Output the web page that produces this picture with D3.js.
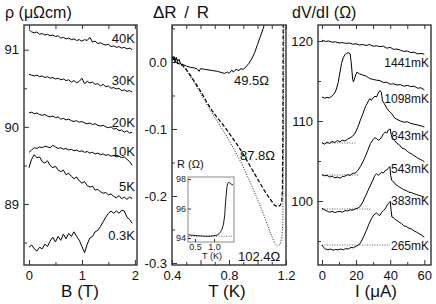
<!DOCTYPE html>
<html>
<head>
<meta charset="utf-8">
<script src="https://cdn.jsdelivr.net/npm/d3@7"></script>
<style>
  body { margin: 0; background: #fff; }
  text { font-family: "Liberation Sans", Arial, Helvetica, sans-serif; }
</style>
</head>
<body>
<div id="chart"></div>
<script>
// ---- left panel: rho vs B at several temperatures
var fieldB = [0,0.05,0.1,0.15,0.2,0.25,0.3,0.35,0.4,0.45,0.5,0.55,0.6,0.65,0.7,0.75,0.8,0.85,0.9,0.95,
              1.0,1.05,1.1,1.15,1.2,1.25,1.3,1.35,1.4,1.45,1.5,1.55,1.6,1.65,1.7,1.75,1.8,1.85,1.9,1.95];
var rho40 = [91.26,91.23,91.22,91.23,91.20,91.21,91.19,91.20,91.18,91.19,91.17,91.18,91.15,91.16,91.14,91.15,91.13,91.14,91.12,91.13,
             91.11,91.13,91.12,91.16,91.10,91.11,91.08,91.09,91.07,91.06,91.07,91.04,91.05,91.03,91.04,91.02,91.03,91.01,91.02,91.00];
var rho30 = [90.68,90.67,90.66,90.67,90.65,90.66,90.64,90.65,90.63,90.64,90.62,90.63,90.61,90.62,90.60,90.61,90.58,90.60,90.57,90.59,
             90.63,90.56,90.59,90.57,90.58,90.55,90.56,90.53,90.55,90.52,90.53,90.50,90.51,90.49,90.50,90.47,90.48,90.46,90.47,90.45];
var rho20 = [90.18,90.19,90.17,90.18,90.16,90.15,90.16,90.14,90.13,90.14,90.12,90.13,90.10,90.11,90.09,90.10,90.08,90.07,90.08,90.06,
             90.07,90.05,90.04,90.05,90.03,90.04,90.02,90.01,90.02,90.00,89.99,90.00,89.97,89.98,89.95,89.96,89.93,89.95,89.92,89.93];
var rho10 = [89.67,89.70,89.73,89.72,89.74,89.73,89.75,89.74,89.73,89.76,89.74,89.72,89.73,89.71,89.72,89.70,89.71,89.69,89.70,89.68,
             89.69,89.67,89.68,89.66,89.67,89.65,89.66,89.64,89.65,89.63,89.64,89.62,89.63,89.61,89.62,89.60,89.61,89.58,89.55,89.50];
var rho5  = [89.47,89.58,89.64,89.60,89.61,89.55,89.53,89.56,89.50,89.47,89.49,89.44,89.42,89.44,89.38,89.40,89.36,89.33,89.35,89.30,
             89.27,89.29,89.24,89.22,89.23,89.18,89.19,89.16,89.14,89.15,89.12,89.13,89.10,89.08,89.11,89.07,89.09,89.06,89.09,89.07];
var rho03 = [88.44,88.47,88.42,88.39,88.44,88.42,88.48,88.45,88.52,88.57,88.51,88.58,88.53,88.61,88.55,88.62,88.58,88.64,88.58,88.53,
             88.45,88.37,88.48,88.56,88.58,88.64,88.66,88.71,88.77,88.83,88.88,88.91,88.88,88.91,88.88,88.92,88.91,88.83,88.80,88.75];
var tempLabels = ["40K", "30K", "20K", "10K", "5K", "0.3K"];

// ---- middle panel: dR/R vs T for three samples
var dr495 = [[0.400,0.004],[0.405,0.009],[0.41,0.003],[0.415,0.008],[0.42,0.002],[0.43,0.007],[0.44,0.001],[0.45,0.004],
             [0.46,-0.003],[0.48,-0.004],[0.50,-0.006],[0.53,-0.008],[0.56,-0.009],[0.58,-0.011],[0.59,-0.014],[0.60,-0.010],
             [0.63,-0.011],[0.66,-0.012],[0.69,-0.013],[0.72,-0.014],[0.75,-0.016],[0.77,-0.017],[0.79,-0.015],[0.80,-0.017],
             [0.82,-0.012],[0.83,-0.015],[0.85,-0.011],[0.87,-0.013],[0.88,-0.010],[0.90,-0.011],[0.92,-0.007],[0.94,-0.002],
             [0.96,0.005],[0.98,0.014],[1.00,0.026],[1.02,0.038],[1.04,0.050],[1.05,0.057]];
var dr878 = [[0.40,0.003],[0.41,0.006],[0.42,0.0],[0.43,0.004],[0.44,-0.002],[0.46,-0.002],[0.48,-0.006],[0.50,-0.011],
             [0.53,-0.020],[0.56,-0.030],[0.59,-0.040],[0.62,-0.051],[0.65,-0.062],[0.68,-0.072],[0.71,-0.081],[0.74,-0.089],
             [0.77,-0.097],[0.80,-0.106],[0.83,-0.115],[0.86,-0.124],[0.89,-0.134],[0.92,-0.145],[0.95,-0.156],[0.98,-0.167],
             [1.01,-0.178],[1.04,-0.189],[1.07,-0.199],[1.10,-0.208],[1.12,-0.214],[1.14,-0.216],[1.16,-0.214],[1.17,-0.208],
             [1.175,-0.19],[1.178,-0.1],[1.18,0.057]];
var dr1024 = [[0.40,0.002],[0.42,0.001],[0.44,-0.003],[0.46,-0.004],[0.48,-0.008],[0.50,-0.013],[0.53,-0.022],[0.56,-0.032],
              [0.59,-0.043],[0.62,-0.054],[0.65,-0.065],[0.68,-0.076],[0.71,-0.086],[0.74,-0.096],[0.77,-0.106],[0.80,-0.117],
              [0.83,-0.128],[0.86,-0.140],[0.89,-0.152],[0.92,-0.166],[0.95,-0.180],[0.98,-0.195],[1.01,-0.210],[1.04,-0.226],
              [1.07,-0.243],[1.10,-0.260],[1.12,-0.270],[1.14,-0.275],[1.16,-0.272],[1.17,-0.263],[1.178,-0.24],[1.182,-0.1],[1.185,0.057]];
var resLabels = ["49.5\u03A9", "87.8\u03A9", "102.4\u03A9"];

// inset: R vs T
var insetR = [[0.33,94.22],[0.4,94.2],[0.5,94.17],[0.6,94.15],[0.7,94.13],[0.8,94.12],[0.9,94.13],[1.0,94.15],[1.08,94.2],
              [1.14,94.3],[1.18,94.45],[1.21,94.6],[1.25,94.95],[1.28,95.5],[1.30,96.3],[1.32,96.9],[1.34,97.45],[1.36,97.7],
              [1.39,97.8],[1.42,97.7],[1.46,97.65],[1.5,97.6]];
var insetBase = [[0.33,94.12],[1.52,94.12]];

// ---- right panel: dV/dI vs I
var dv1441 = [[0,120.1],[2,119.95],[4,120.0],[6,119.85],[8,119.9],[10,119.75],[12,119.8],[14,119.7],[16,119.75],[18,119.6],
              [20,119.65],[22,119.5],[24,119.55],[26,119.45],[28,119.55],[30,119.35],[32,119.4],[34,119.3],[36,119.35],[38,119.1],
              [40,119.2],[42,118.95],[44,119.0],[46,118.85],[48,118.7],[50,118.75],[52,118.55],[54,118.6],[56,118.4],[58,118.45],[60,118.35]];
var dv1098 = [[0,113.0],[1.5,112.85],[3,112.95],[4.5,112.9],[6,113.15],[7.5,113.5],[8.5,114.0],[9.5,114.8],[10.5,116.0],
              [11.5,117.2],[12.5,117.9],[13.5,118.3],[14.5,118.45],[15.5,118.55],[16.5,118.4],[17,117.6],[17.5,116.5],[18,115.2],
              [18.5,114.9],[19.5,115.6],[20.5,116.1],[22,115.9],[24,115.75],[26,115.6],[28,115.3],[30,115.2],[32,115.1],[34,115.05],
              [36,114.8],[38,114.85],[40,114.6],[42,114.65],[44,114.5],[46,114.55],[48,114.35],[50,114.45],[52,114.3],[54,114.35],
              [56,114.1],[58,114.15],[60,113.9]];
var dv843 = [[0,107.3],[1.5,107.1],[3,107.35],[4.5,107.2],[6,107.45],[7.5,107.3],[9,107.55],[10.5,107.4],[12,107.6],[13.5,107.5],
             [15,107.75],[16.5,107.9],[18,108.1],[19.5,108.5],[21,109.2],[22.5,110.1],[24,110.9],[25.5,111.8],[27,112.4],[28,112.8],
             [29,112.6],[30,112.9],[31,113.1],[32,113.0],[33,113.5],[34,113.8],[34.8,113.6],[35.5,112.5],[36.5,112.2],[38,111.6],
             [39.5,111.2],[41,110.9],[42.5,110.4],[44,110.2],[46,110.0],[48,109.85],[50,109.9],[52,109.7],[54,109.6],[56,109.5],
             [58,109.4],[60,109.25]];
var dv543 = [[0,103.3],[1.5,103.15],[3,103.2],[4.5,103.0],[6,103.1],[7.5,102.9],[9,103.0],[10.5,102.85],[12,103.05],[13.5,103.1],
             [15,103.3],[16.5,103.2],[18,103.45],[19.5,103.5],[21,103.8],[22.5,104.3],[24,104.9],[25.5,105.6],[27,106.4],[28.5,107.2],
             [30,107.7],[31,107.9],[32,107.8],[33,107.6],[34,107.7],[35,108.0],[36,108.4],[37,108.6],[38,108.5],[39,108.9],[40,109.0],
             [40.6,108.3],[41.2,107.9],[42.5,107.6],[44,107.2],[45.5,107.0],[47,106.6],[48.5,106.5],[50,106.2],[51.5,106.0],[53,105.8],
             [54.5,105.6],[56,105.4],[57.5,105.2],[59,105.05],[60,104.9]];
var dv383 = [[0,99.1],[1.5,98.9],[3,98.75],[4.5,98.6],[6,98.7],[7.5,98.55],[9,98.65],[10.5,98.7],[12,98.6],[13.5,98.8],[15,98.75],
             [16.5,98.9],[18,98.85],[19.5,99.0],[21,99.1],[22.5,99.35],[24,99.9],[25.5,100.6],[27,101.3],[28.5,102.0],[30,102.7],
             [31,103.2],[32,103.4],[33,103.2],[34,103.4],[35,103.6],[36,103.5],[37,103.8],[38,103.9],[39,104.1],[39.8,104.3],
             [40.3,103.2],[40.8,102.6],[42,102.4],[43.5,102.0],[45,101.8],[46.5,101.6],[48,101.4],[49.5,101.3],[51,101.1],
             [52.5,101.05],[54,100.9],[55.5,100.8],[57,100.7],[58.5,100.6],[60,100.45]];
var dv265 = [[0,94.5],[1,94.2],[2,94.0],[3.5,93.9],[5,94.0],[6.5,93.85],[8,93.95],[9.5,93.9],[11,94.0],[12.5,93.9],[14,94.05],
             [15.5,94.0],[17,94.2],[18.5,94.15],[20,94.35],[21.5,94.5],[23,94.9],[24.5,95.6],[26,96.3],[27.5,97.1],[29,97.8],
             [30.5,98.3],[32,98.5],[33,98.3],[34,98.2],[35,98.6],[36,98.8],[37,99.0],[38,99.4],[39,99.7],[40,99.95],[40.5,98.9],
             [41,98.0],[42,97.9],[43.5,97.6],[45,97.4],[46.5,97.2],[48,96.9],[49.5,96.8],[51,96.6],[52.5,96.5],[54,96.25],
             [55.5,96.1],[57,95.9],[58.5,95.7],[60,95.5]];
var mkLabels = ["1441mK", "1098mK", "843mK", "543mK", "383mK", "265mK"];
// zero-bias reference levels (dotted) and where they stop
var baseLevel = [107.25, 103.25, 99.0, 94.5];
var baseEnd   = [20, 22, 29, 40];

var W = 436, H = 304, plotTop = 25, plotBottom = 265;

var svg = d3.select("#chart").append("svg")
    .attr("width", W)
    .attr("height", H);

var fontStack = '"Liberation Sans", Arial, Helvetica, sans-serif';

function frame(x, y) {
  svg.append("rect")
      .attr("x", x.range()[0])
      .attr("y", y.range()[1])
      .attr("width", x.range()[1] - x.range()[0])
      .attr("height", y.range()[0] - y.range()[1])
      .attr("fill", "none")
      .attr("stroke", "#333")
      .attr("stroke-width", 1.4);
}

function axes(x, y, xt, xfmt, xminor, yt, yfmt, yminor, fs, len) {
  var y0 = y.range()[0], y1 = y.range()[1], x0 = x.range()[0];
  var gx = svg.append("g").attr("transform", "translate(0," + y0 + ")")
      .call(d3.axisBottom(x).tickValues(xt).tickSize(-len).tickPadding(6).tickFormat(xfmt));
  svg.append("g").attr("transform", "translate(0," + y0 + ")")
      .call(d3.axisBottom(x).tickValues(xminor).tickSize(-len * 0.6).tickFormat(""));
  svg.append("g").attr("transform", "translate(0," + y1 + ")")
      .call(d3.axisTop(x).tickValues(xt.concat(xminor)).tickSize(-len * 0.8).tickFormat(""));
  var gy = svg.append("g").attr("transform", "translate(" + x0 + ",0)")
      .call(d3.axisLeft(y).tickValues(yt).tickSize(-len).tickPadding(5).tickFormat(yfmt));
  svg.append("g").attr("transform", "translate(" + x0 + ",0)")
      .call(d3.axisLeft(y).tickValues(yminor).tickSize(-len * 0.6).tickFormat(""));
  svg.selectAll(".domain").remove();
  [gx, gy].forEach(function(g) {
    g.attr("font-size", fs).attr("font-family", fontStack);
    g.selectAll("text").attr("fill", "#111");
  });
  svg.selectAll(".tick line").attr("stroke", "#333");
}

function label(txt, x, y, size, anchor) {
  return svg.append("text")
      .attr("x", x).attr("y", y)
      .attr("font-size", size)
      .attr("text-anchor", anchor || "start")
      .attr("fill", "#111")
      .text(txt);
}

function clip(id, x, y) {
  svg.append("clipPath").attr("id", id).append("rect")
      .attr("x", x.range()[0]).attr("y", y.range()[1])
      .attr("width", x.range()[1] - x.range()[0])
      .attr("height", y.range()[0] - y.range()[1]);
}

// ================= left panel
var xB = d3.scaleLinear().domain([-0.094, 2.04]).range([24, 137]);
var yRho = d3.scaleLinear().domain([88.21, 91.32]).range([plotBottom, plotTop]);

axes(xB, yRho, [0, 1, 2], d3.format("d"), [0.5, 1.5], [89, 90, 91], d3.format("d"), [88.5, 89.5, 90.5], 13, 5);

var lineB = d3.line()
    .x(function(d, i) { return xB(fieldB[i]); })
    .y(function(d) { return yRho(d); });

[rho40, rho30, rho20, rho10, rho5, rho03].forEach(function(s) {
  svg.append("path")
      .datum(s)
      .attr("fill", "none")
      .attr("stroke", "#000")
      .attr("stroke-width", 1)
      .attr("d", lineB);
});

var tempLabelY = [43, 85, 127, 156, 191, 240];
tempLabels.forEach(function(t, i) { label(t, 135, tempLabelY[i], 13, "end"); });
frame(xB, yRho);

// ================= middle panel
var xT = d3.scaleLinear().domain([0.4, 1.2]).range([172, 286]);
var yDR = d3.scaleLinear().domain([-0.303, 0.0552]).range([plotBottom, plotTop]);

axes(xT, yDR, [0.4, 0.6, 0.8, 1.0, 1.2],
     function(d) { return (Math.abs(d - 0.6) < 1e-6 || Math.abs(d - 1.0) < 1e-6) ? "" : d.toFixed(1); },
     [0.5, 0.7, 0.9, 1.1],
     [-0.3, -0.2, -0.1, 0], function(d) { return d.toFixed(1); }, [-0.25, -0.15, -0.05, 0.05], 13, 5);

clip("clipMid", xT, yDR);
var lineT = d3.line()
    .x(function(d) { return xT(d[0]); })
    .y(function(d) { return yDR(d[1]); });

var gMid = svg.append("g").attr("clip-path", "url(#clipMid)");
gMid.append("path").datum(dr495)
    .attr("fill", "none").attr("stroke", "#000").attr("stroke-width", 1).attr("d", lineT);
gMid.append("path").datum(dr878)
    .attr("fill", "none").attr("stroke", "#000").attr("stroke-width", 1.2)
    .attr("stroke-dasharray", "4,2").attr("d", lineT);
gMid.append("path").datum(dr1024)
    .attr("fill", "none").attr("stroke", "#000").attr("stroke-width", 0.9)
    .attr("stroke-dasharray", "1,1.6").attr("d", lineT);

label(resLabels[0], 234, 85, 13);
label(resLabels[1], 240, 160, 13);
label(resLabels[2], 238, 261, 13);
frame(xT, yDR);

// inset
var xIn = d3.scaleLinear().domain([0.316, 1.526]).range([188, 234]);
var yIn = d3.scaleLinear().domain([93.73, 98.14]).range([242, 177]);
svg.append("rect")
    .attr("x", 188).attr("y", 177).attr("width", 46).attr("height", 65)
    .attr("fill", "#fff").attr("stroke", "#888").attr("stroke-width", 1);
var gix = svg.append("g").attr("transform", "translate(0,242)")
    .call(d3.axisBottom(xIn).tickValues([0.5, 1.0]).tickSize(-3).tickPadding(2).tickFormat(d3.format(".1f")));
var giy = svg.append("g").attr("transform", "translate(188,0)")
    .call(d3.axisLeft(yIn).tickValues([94, 96, 98]).tickSize(-3).tickPadding(2).tickFormat(d3.format("d")));
[gix, giy].forEach(function(g) {
  g.select(".domain").remove();
  g.attr("font-size", 9).attr("font-family", fontStack);
  g.selectAll("line").attr("stroke", "#888");
  g.selectAll("text").attr("fill", "#222");
});
var lineIn = d3.line()
    .x(function(d) { return xIn(d[0]); })
    .y(function(d) { return yIn(d[1]); });
svg.append("path").datum(insetBase)
    .attr("fill", "none").attr("stroke", "#444").attr("stroke-width", 0.8)
    .attr("stroke-dasharray", "1,1.5").attr("d", lineIn);
svg.append("path").datum(insetR)
    .attr("fill", "none").attr("stroke", "#000").attr("stroke-width", 0.9).attr("d", lineIn);
label("R (\u03A9)", 177, 168, 11);
label("T (K)", 212, 259, 9, "middle");

// ================= right panel
var xI = d3.scaleLinear().domain([-2.3, 63.9]).range([318, 431]);
var yDV = d3.scaleLinear().domain([92, 122]).range([plotBottom, plotTop]);

axes(xI, yDV, [0, 20, 40, 60], d3.format("d"), [10, 30, 50],
     [100, 110, 120], d3.format("d"), [95, 105, 115], 13, 5);

var lineI = d3.line()
    .x(function(d) { return xI(d[0]); })
    .y(function(d) { return yDV(d[1]); });

baseLevel.forEach(function(v, i) {
  svg.append("path")
      .datum([[0, v], [baseEnd[i], v]])
      .attr("fill", "none").attr("stroke", "#333").attr("stroke-width", 0.8)
      .attr("stroke-dasharray", "1,1.5").attr("d", lineI);
});

[dv1441, dv1098, dv843, dv543, dv383, dv265].forEach(function(s) {
  svg.append("path").datum(s)
      .attr("fill", "none").attr("stroke", "#000").attr("stroke-width", 1).attr("d", lineI);
});

var mkLabelY = [67, 103, 140, 173, 205, 250];
mkLabels.forEach(function(t, i) { label(t, 429, mkLabelY[i], 12, "end"); });
frame(xI, yDV);

// ================= axis titles
label("\u03C1 (\u03BC\u03A9cm)", 5, 18, 16);
label("\u0394R / R", 153, 18, 17).attr("word-spacing", 3);
label("dV/dI (\u03A9)", 292, 18, 16);
label("B (T)", 80, 297, 17, "middle");
label("T (K)", 227, 297, 17, "middle");
label("I (\u03BCA)", 376, 297, 17, "middle");
</script>
</body>
</html>
